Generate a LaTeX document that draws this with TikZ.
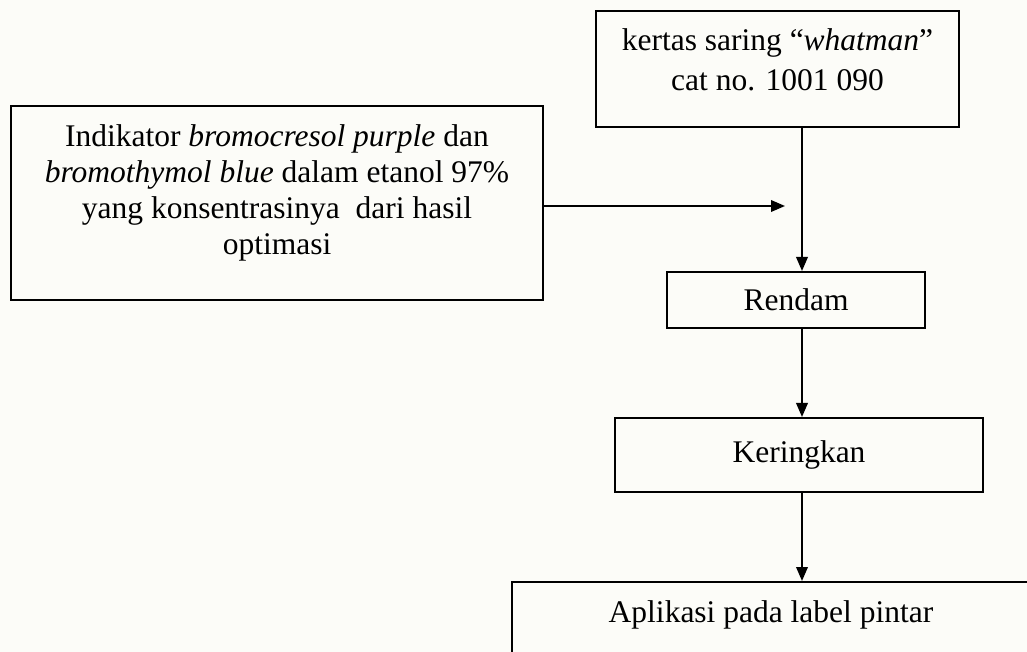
\documentclass[tikz,border=0pt]{standalone}
\usepackage{fontspec}
\setmainfont{Liberation Serif}
\usetikzlibrary{arrows.meta}

\definecolor{paper}{RGB}{252,252,248}

\begin{document}
\begin{tikzpicture}[x=0.4pt, y=-0.4pt,
    box/.style={draw, line width=0.8pt, align=center, inner sep=0pt,
      font=\fontsize{12.6}{14.4}\selectfont},
    flow/.style={line width=0.8pt, -{Triangle[length=5.6pt,width=4.6pt]}}]

  \fill[paper] (0,0) rectangle (1027,652);
  \useasboundingbox (0,0) rectangle (1027,652);

  \node (kertas) [box, minimum width=145.2pt, minimum height=46.4pt] at (777.5,69)
    {kertas saring “\textit{whatman}”\\[1.6pt] cat no. 1001 090\rule[-7.5pt]{0pt}{7.5pt}};
  \node (indikator) [box, minimum width=212.8pt, minimum height=77.6pt] at (277,203)
    {Indikator \textit{bromocresol purple} dan\\
     \textit{bromothymol blue} dalam etanol 97\%\\
     yang konsentrasinya\ \ dari hasil\\ optimasi\rule[-11pt]{0pt}{11pt}};
  \node (rendam) [box, minimum width=103.2pt, minimum height=22.4pt] at (796,300) {Rendam};
  \node (kering) [box, minimum width=147.2pt, minimum height=29.6pt] at (799,455) {Keringkan};
  \node (aplikasi) [box, minimum width=207.2pt, text height=16pt, text depth=20pt,
    anchor=north] at (771,581) {Aplikasi pada label pintar};

  \coordinate (spine) at (802,0);
  \coordinate (join) at (785,206);

  \draw[flow] (kertas.south -| spine) -- (rendam.north -| spine);
  \draw[flow] (indikator.east |- join) -- (join);
  \draw[flow] (rendam.south -| spine) -- (kering.north -| spine);
  \draw[flow] (kering.south -| spine) -- (aplikasi.north -| spine);

\end{tikzpicture}
\end{document}
